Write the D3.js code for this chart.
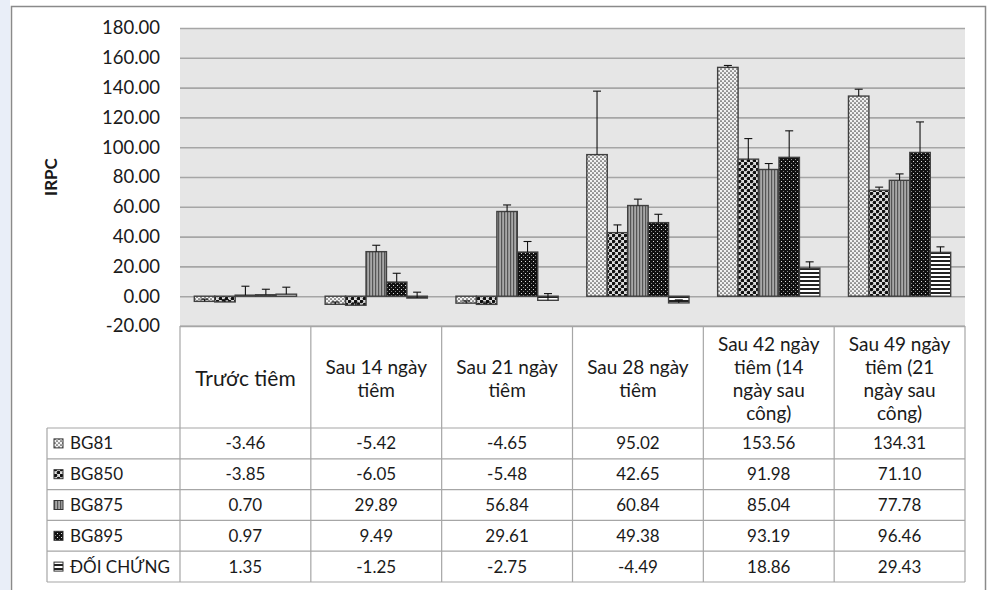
<!DOCTYPE html>
<html>
<head>
<meta charset="utf-8">
<script src="https://cdn.jsdelivr.net/npm/d3@7"></script>
<style>
  html, body { margin: 0; padding: 0; background: #fff; }
  svg { display: block; font-family: Lato, "Open Sans", sans-serif; }
</style>
</head>
<body>
<svg id="chart" width="988" height="590"></svg>
<script>
// ---------- DATA ----------
const categories = ["Trước tiêm", "Sau 14 ngày tiêm", "Sau 21 ngày tiêm", "Sau 28 ngày tiêm",
  "Sau 42 ngày tiêm (14 ngày sau công)", "Sau 49 ngày tiêm (21 ngày sau công)"];
const headerLines = [["Trước tiêm"], ["Sau 14 ngày", "tiêm"], ["Sau 21 ngày", "tiêm"], ["Sau 28 ngày", "tiêm"],
  ["Sau 42 ngày", "tiêm (14", "ngày sau", "công)"], ["Sau 49 ngày", "tiêm (21", "ngày sau", "công)"]];
const seriesNames = ["BG81", "BG850", "BG875", "BG895", "ĐỐI CHỨNG"];
const bg81 = [-3.46, -5.42, -4.65, 95.02, 153.56, 134.31];
const bg850 = [-3.85, -6.05, -5.48, 42.65, 91.98, 71.10];
const bg875 = [0.70, 29.89, 56.84, 60.84, 85.04, 77.78];
const bg895 = [0.97, 9.49, 29.61, 49.38, 93.19, 96.46];
const doiChung = [1.35, -1.25, -2.75, -4.49, 18.86, 29.43];
// error bar sizes
const err81 = [1.5, 1.5, 1.5, 42.6, 1.3, 4.6];
const err850 = [1.5, 1.5, 1.5, 5.2, 13.8, 2.1];
const err875 = [6.0, 4.3, 4.4, 4.3, 4.0, 4.3];
const err895 = [3.7, 5.9, 7.1, 5.6, 17.8, 20.5];
const errDC = [4.7, 3.95, 4.5, 2.0, 4.2, 3.7];
const yTicks = [-20, 0, 20, 40, 60, 80, 100, 120, 140, 160, 180];
const yTitle = "IRPC";

const values = [bg81, bg850, bg875, bg895, doiChung];
const errors = [err81, err850, err875, err895, errDC];
const patternIds = ["p81", "p850", "p875", "p895", "pdc"];
const fmt = v => d3.format(".2f")(v).replace("\u2212", "-");

// ---------- LAYOUT ----------
const svg = d3.select("#chart");
const plotL = 180, plotR = 965, plotT = 28, plotB = 326;
const tableL = 47, headerB = 428, rowH = 30.8;
const textColor = "#1a1a1a";
const lineColor = "#a6a6a6";

// background
svg.append("rect").attr("x", 0).attr("y", 0).attr("width", 988).attr("height", 590).attr("fill", "#fff");
svg.append("rect").attr("x", 0).attr("y", 0).attr("width", 10).attr("height", 590).attr("fill", "#e9eef8");
svg.append("rect").attr("x", 11.5).attr("y", 6.5).attr("width", 974).attr("height", 600)
  .attr("fill", "#fff").attr("stroke", "#8a8a8a").attr("stroke-width", 1.5);

// patterns
const defs = svg.append("defs");
{
  const p = defs.append("pattern").attr("id", "p81").attr("patternUnits", "userSpaceOnUse").attr("width", 4).attr("height", 4);
  p.append("rect").attr("width", 4).attr("height", 4).attr("fill", "#f2f2f2");
  p.append("circle").attr("cx", 1).attr("cy", 1).attr("r", 0.85).attr("fill", "#444");
  p.append("circle").attr("cx", 3).attr("cy", 3).attr("r", 0.85).attr("fill", "#444");
}
{
  const p = defs.append("pattern").attr("id", "p850").attr("patternUnits", "userSpaceOnUse").attr("width", 6).attr("height", 6);
  p.append("rect").attr("width", 6).attr("height", 6).attr("fill", "#ddd");
  p.append("circle").attr("cx", 1.5).attr("cy", 1.5).attr("r", 1.8).attr("fill", "#111");
  p.append("circle").attr("cx", 4.5).attr("cy", 4.5).attr("r", 1.8).attr("fill", "#111");
}
{
  const p = defs.append("pattern").attr("id", "p875").attr("patternUnits", "userSpaceOnUse").attr("width", 3).attr("height", 3);
  p.append("rect").attr("width", 3).attr("height", 3).attr("fill", "#a8a8a8");
  p.append("rect").attr("x", 0).attr("width", 1.2).attr("height", 3).attr("fill", "#555");
}
{
  const p = defs.append("pattern").attr("id", "p895").attr("patternUnits", "userSpaceOnUse").attr("width", 4).attr("height", 4);
  p.append("rect").attr("width", 4).attr("height", 4).attr("fill", "#111");
  p.append("rect").attr("x", 1).attr("y", 1).attr("width", 1).attr("height", 1).attr("fill", "#ddd");
  p.append("rect").attr("x", 3).attr("y", 3).attr("width", 1).attr("height", 1).attr("fill", "#888");
}
{
  const p = defs.append("pattern").attr("id", "pdc").attr("patternUnits", "userSpaceOnUse").attr("width", 4).attr("height", 4);
  p.append("rect").attr("width", 4).attr("height", 4).attr("fill", "#fff");
  p.append("rect").attr("y", 0).attr("width", 4).attr("height", 2).attr("fill", "#222");
}

// scales
const y = d3.scaleLinear().domain([-20, 180]).range([plotB, plotT]);
const x = d3.scaleBand().domain(categories).range([plotL, plotR]).padding(0);
const x1 = d3.scaleBand().domain(seriesNames).range([0, x.bandwidth()]).paddingInner(0).paddingOuter(0.7);

// plot area
svg.append("rect").attr("x", plotL).attr("y", plotT).attr("width", plotR - plotL).attr("height", plotB - plotT)
  .attr("fill", "#e6e6e6");

// gridlines via axis
const yAxis = d3.axisLeft(y).tickValues(yTicks).tickFormat(fmt).tickSize(-(plotR - plotL)).tickPadding(20);
const gy = svg.append("g").attr("transform", `translate(${plotL},0)`).call(yAxis);
gy.select(".domain").remove();
gy.selectAll(".tick line").attr("stroke", lineColor).attr("stroke-width", 1.6);
gy.selectAll(".tick text").attr("font-size", 18.5).attr("fill", textColor).attr("font-family", "Lato, sans-serif");

// y title
svg.append("text").attr("transform", `translate(51,${(plotT + plotB) / 2}) rotate(-90)`)
  .attr("text-anchor", "middle").attr("dy", "0.35em").attr("font-weight", "bold").attr("font-size", 17).attr("fill", textColor)
  .text(yTitle);

// bars
const flat = [];
seriesNames.forEach((s, si) => categories.forEach((c, ci) => {
  flat.push({ s, si, c, v: values[si][ci], e: errors[si][ci] });
}));
svg.append("g").selectAll("rect").data(flat).join("rect")
  .attr("x", d => x(d.c) + x1(d.s))
  .attr("y", d => y(Math.max(0, d.v)))
  .attr("width", x1.bandwidth())
  .attr("height", d => Math.max(1, Math.abs(y(d.v) - y(0))))
  .attr("fill", d => `url(#${patternIds[d.si]})`)
  .attr("stroke", "#404040").attr("stroke-width", 1.4);

// error bars
const eg = svg.append("g").attr("stroke", "#111").attr("stroke-width", 1.1);
flat.forEach(d => {
  const cx = x(d.c) + x1(d.s) + x1.bandwidth() / 2;
  const y0 = y(d.v), y1 = y(d.v + d.e);
  eg.append("line").attr("x1", cx).attr("x2", cx).attr("y1", y0).attr("y2", y1);
  eg.append("line").attr("x1", cx - 4).attr("x2", cx + 4).attr("y1", y1).attr("y2", y1);
});

// ---------- TABLE ----------
const tg = svg.append("g").attr("stroke", lineColor).attr("stroke-width", 1.2);
tg.append("line").attr("x1", tableL).attr("x2", tableL).attr("y1", headerB).attr("y2", headerB + rowH * 5);
categories.forEach(c => {
  tg.append("line").attr("x1", x(c)).attr("x2", x(c)).attr("y1", plotB).attr("y2", headerB + rowH * 5);
});
tg.append("line").attr("x1", plotR).attr("x2", plotR).attr("y1", plotB).attr("y2", headerB + rowH * 5);
tg.append("line").attr("x1", plotL).attr("x2", plotR).attr("y1", plotB).attr("y2", plotB);
for (let i = 0; i <= 5; i++) {
  tg.append("line").attr("x1", tableL).attr("x2", plotR).attr("y1", headerB + rowH * i).attr("y2", headerB + rowH * i);
}

// header text
const headerCenter = 378.5, lh = 23;
categories.forEach((c, ci) => {
  const lines = headerLines[ci];
  const t = svg.append("text").attr("text-anchor", "middle").attr("fill", textColor)
    .attr("font-size", ci === 0 ? 21 : 19);
  lines.forEach((ln, li) => {
    t.append("tspan").attr("x", x(c) + x.bandwidth() / 2)
      .attr("y", headerCenter + (li - (lines.length - 1) / 2) * lh)
      .attr("dy", "0.35em").text(ln);
  });
});

// rows
seriesNames.forEach((s, si) => {
  const cy = headerB + rowH * si + rowH / 2;
  svg.append("rect").attr("x", 54).attr("y", cy - 4.5).attr("width", 9).attr("height", 9)
    .attr("fill", `url(#${patternIds[si]})`).attr("stroke", "#333").attr("stroke-width", 1);
  svg.append("text").attr("x", 70).attr("y", cy).attr("dy", "0.35em").attr("font-size", 17)
    .attr("fill", textColor).text(s);
  categories.forEach((c, ci) => {
    svg.append("text").attr("x", x(c) + x.bandwidth() / 2).attr("y", cy).attr("dy", "0.35em")
      .attr("text-anchor", "middle").attr("font-size", 17).attr("fill", textColor)
      .text(fmt(values[si][ci]));
  });
});
</script>
</body>
</html>
